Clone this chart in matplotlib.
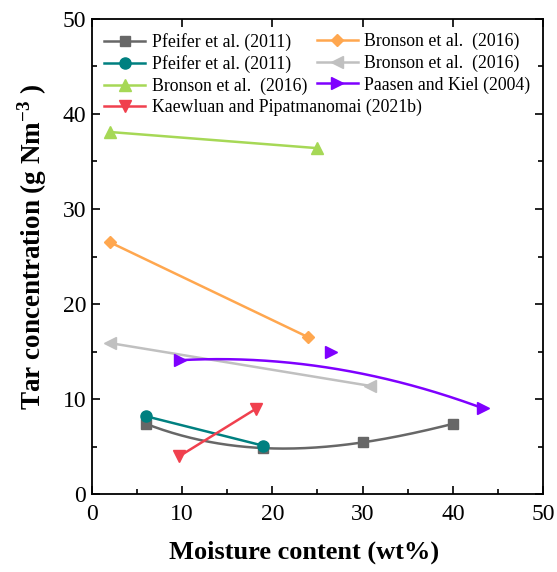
import numpy as np
import matplotlib
matplotlib.use("Agg")
import matplotlib.pyplot as plt
from matplotlib.ticker import MultipleLocator

plt.rcParams['font.family'] = ['Liberation Serif', 'DejaVu Serif']
plt.rcParams['mathtext.fontset'] = 'custom'
plt.rcParams['mathtext.rm'] = 'Liberation Serif'
plt.rcParams['mathtext.bf'] = 'Liberation Serif:bold'

# Series data: moisture content (wt%) vs tar concentration (g Nm^-3)
pfeifer_sq_x = [6, 19, 30, 40]
pfeifer_sq_y = [7.4, 4.85, 5.45, 7.4]
pfeifer_ci_x = [6, 19]
pfeifer_ci_y = [8.2, 5.1]
bronson_tri_x = [2, 25]
bronson_tri_y = [38.1, 36.4]
kaewluan_x = [9.7, 18.2]
kaewluan_y = [4.0, 9.0]
bronson_dia_x = [2, 24]
bronson_dia_y = [26.5, 16.5]
bronson_left_x = [2, 30.8]
bronson_left_y = [15.9, 11.4]
paasen_x = [9.8, 26.5, 43.3]
paasen_y = [14.1, 14.95, 9.05]

labels_left = ["Pfeifer et al. (2011)", "Pfeifer et al. (2011)", "Bronson et al.  (2016)",
               "Kaewluan and Pipatmanomai (2021b)"]
labels_right = ["Bronson et al.  (2016)", "Bronson et al.  (2016)", "Paasen and Kiel (2004)"]

fig = plt.figure(figsize=(5.57, 5.72), dpi=100)
ax = fig.add_axes([0.165, 0.136, 0.81, 0.831])

lw = 1.8
ms = 8

# smooth curve through the four square points
cx = np.linspace(pfeifer_sq_x[0], pfeifer_sq_x[-1], 200)
coef = np.polyfit(pfeifer_sq_x, pfeifer_sq_y, 3)
ax.plot(cx, np.polyval(coef, cx), color='#676767', lw=lw)
ax.plot(pfeifer_sq_x, pfeifer_sq_y, ls='none', marker='s', color='#676767', ms=ms - 0.5)
h1, = ax.plot([], [], color='#676767', lw=lw, marker='s', ms=ms - 0.5)

h2, = ax.plot(pfeifer_ci_x, pfeifer_ci_y, color='#008080', lw=lw, marker='o', ms=ms)
h3, = ax.plot(bronson_tri_x, bronson_tri_y, color='#A6D856', lw=lw, marker='^', ms=ms + 1)
h4, = ax.plot(kaewluan_x, kaewluan_y, color='#F0404E', lw=lw, marker='v', ms=ms + 1)
h5, = ax.plot(bronson_dia_x, bronson_dia_y, color='#FFA74F', lw=lw, marker='D', ms=ms - 1.5)
h6, = ax.plot(bronson_left_x, bronson_left_y, color='#C0C0C0', lw=lw, marker='<', ms=ms + 1)

# quadratic B-spline (Bezier) through the three Paasen points
t = np.linspace(0, 1, 200)
p = np.array([paasen_x, paasen_y])
bx = (1 - t) ** 2 * p[0, 0] + 2 * t * (1 - t) * p[0, 1] + t ** 2 * p[0, 2]
by = (1 - t) ** 2 * p[1, 0] + 2 * t * (1 - t) * p[1, 1] + t ** 2 * p[1, 2]
ax.plot(bx, by, color='#7F00FF', lw=lw)
ax.plot(paasen_x, paasen_y, ls='none', marker='>', color='#7F00FF', ms=ms + 1)
h7, = ax.plot([], [], color='#7F00FF', lw=lw, marker='>', ms=ms + 1)

ax.set_xlim(0, 50)
ax.set_ylim(0, 50)
ax.xaxis.set_major_locator(MultipleLocator(10))
ax.xaxis.set_minor_locator(MultipleLocator(5))
ax.yaxis.set_major_locator(MultipleLocator(10))
ax.yaxis.set_minor_locator(MultipleLocator(5))
ax.tick_params(which='both', direction='in', top=True, right=True, width=1.2)
ax.tick_params(which='major', length=6, labelsize=17)
ax.tick_params(axis='x', which='major', pad=7)
ax.tick_params(axis='y', which='major', pad=4)
ax.tick_params(which='minor', length=3.5)
ax.tick_params(axis='x', which='minor', top=False)
for s in ax.spines.values():
    s.set_linewidth(1.3)

ax.set_xlabel('Moisture content (wt%)', fontsize=19, fontweight='bold')
ax.xaxis.set_label_coords(0.47, -0.097)
ax.set_ylabel(r'Tar concentration (g Nm$^{\mathbf{-3}}$ )', fontsize=19.5, fontweight='bold')
ax.yaxis.set_label_coords(-0.094, 0.52)

leg_kw = dict(frameon=False, fontsize=12.8, handlelength=2.3, handletextpad=0.35,
              labelspacing=0.24, borderaxespad=0.0, loc='upper left')
leg1 = ax.legend([h1, h2, h3, h4], labels_left, bbox_to_anchor=(0.012, 0.985), **leg_kw)
ax.add_artist(leg1)
ax.legend([h5, h6, h7], labels_right, bbox_to_anchor=(0.483, 0.985), **leg_kw)

fig.savefig('out.png', dpi=100)
